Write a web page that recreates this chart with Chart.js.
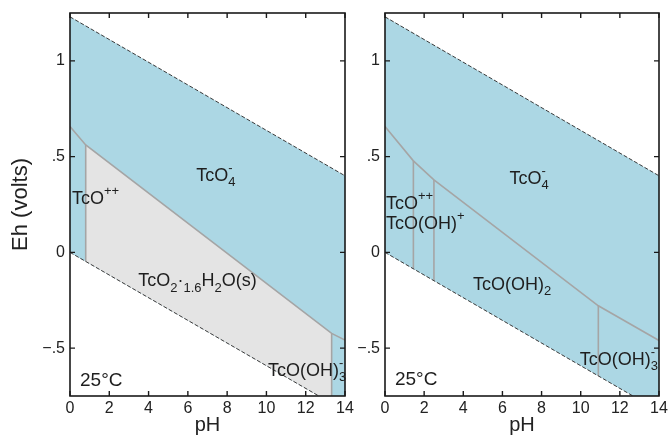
<!DOCTYPE html>
<html><head><meta charset="utf-8">
<script src="https://cdn.jsdelivr.net/npm/chart.js@4"></script>
<style>
html,body{margin:0;padding:0;background:#fff;}
#wrap{position:relative;width:668px;height:437px;overflow:hidden;}
#c1{position:absolute;left:0;top:0;z-index:2;}
#c2{position:absolute;left:350px;top:0;z-index:1;}
</style></head><body>
<div id="wrap"><canvas id="c1" width="364" height="437"></canvas><canvas id="c2" width="318" height="437"></canvas></div>
<script>
// ---- axis ticks ----
const xTickValues = [0, 2, 4, 6, 8, 10, 12, 14];
const yTickValues = [-0.5, 0, 0.5, 1];
const yTickText = ['\u2212.5', '0', '.5', '1'];

// ---- water stability field (pH, Eh) ----
const waterUpperPH = [0, 14];
const waterUpperEh = [1.23, 0.40];
const waterLowerPH = [0, 12.67];
const waterLowerEh = [0, -0.75];
const waterFieldPH = [0, 14, 14, 12.67, 0];
const waterFieldEh = [1.23, 0.40, -0.75, -0.75, 0];

// ---- left panel: TcO4- boundary and solid field ----
const leftTopPH = [0, 0.8, 13.32, 14];
const leftTopEh = [0.657, 0.561, -0.423, -0.458];
const leftSolidPH = [0.8, 0.8, 13.32, 13.32, 12.67];
const leftSolidEh = [-0.047, 0.561, -0.423, -0.75, -0.75];
const leftV1PH = [0.8, 0.8];
const leftV1Eh = [0.561, -0.047];
const leftV2PH = [13.32, 13.32];
const leftV2Eh = [-0.423, -0.75];

// ---- right panel: aqueous boundaries ----
const rightTopPH = [0, 1.45, 2.5, 10.9, 14];
const rightTopEh = [0.657, 0.478, 0.379, -0.279, -0.46];
const rightV1PH = [1.45, 1.45];
const rightV1Eh = [0.478, -0.086];
const rightV2PH = [2.5, 2.5];
const rightV2Eh = [0.379, -0.148];
const rightV3PH = [10.9, 10.9];
const rightV3Eh = [-0.279, -0.645];

// ---- field labels (text, pH, Eh, align) ----
const leftLabelText = ['TcO_{4}^{-}', 'TcO^{++}', 'TcO_{2}\u00b7_{1.6}H_{2}O(s)', 'TcO(OH)_{3}^{-}', '25\u00b0C'];
const leftLabelPH = [7.43, 0.1, 6.49, 10.08, 0.51];
const leftLabelEh = [0.40, 0.281, -0.152, -0.62, -0.672];
const leftLabelAlign = ['center', 'left', 'center', 'left', 'left'];
const rightLabelText = ['TcO_{4}^{-}', 'TcO^{++}', 'TcO(OH)^{+}', 'TcO(OH)_{2}', 'TcO(OH)_{3}^{-}', '25\u00b0C'];
const rightLabelPH = [7.36, 0.05, 0.05, 4.5, 9.95, 0.51];
const rightLabelEh = [0.383, 0.252, 0.148, -0.171, -0.562, -0.667];
const rightLabelAlign = ['center', 'left', 'left', 'left', 'left', 'left'];

const BLUE = 'rgb(172,215,228)';
const GREY_FILL = 'rgb(228,228,228)';
const GREY_LINE = 'rgb(165,165,165)';
const FONT = '"Liberation Sans", Arial, Helvetica, sans-serif';

function pts(xs, ys) { return xs.map((x, i) => ({x: x, y: ys[i]})); }

function parseRich(s) {
  const out = []; let i = 0;
  const isMark = j => (s[j] === '_' || s[j] === '^') && s[j + 1] === '{';
  while (i < s.length) {
    if (isMark(i)) { const j = s.indexOf('}', i); out.push({t: s.slice(i + 2, j), k: s[i]}); i = j + 1; }
    else { let j = i; while (j < s.length && !isMark(j)) j++; out.push({t: s.slice(i, j), k: ''}); i = j; }
  }
  return out;
}
function drawRich(ctx, s, px, py, align, size) {
  const parts = parseRich(s);
  const small = Math.round(size * 0.72);
  const mainFont = size + 'px ' + FONT;
  const smallFont = small + 'px ' + FONT;
  const items = []; let w = 0;
  for (let i = 0; i < parts.length; i++) {
    const p = parts[i];
    if (p.k === '') {
      ctx.font = mainFont; const pw = ctx.measureText(p.t).width;
      items.push({t: p.t, x: w, dy: 0, f: mainFont}); w += pw;
    } else {
      ctx.font = smallFont; let pw = ctx.measureText(p.t).width;
      items.push({t: p.t, x: w, dy: p.k === '_' ? size * 0.36 : -size * 0.42, f: smallFont});
      if (p.k === '_' && parts[i + 1] && parts[i + 1].k === '^') {
        const q = parts[i + 1]; const qw = ctx.measureText(q.t).width;
        items.push({t: q.t, x: w, dy: -size * 0.42, f: smallFont}); pw = Math.max(pw, qw); i++;
      }
      w += pw;
    }
  }
  const x0 = align === 'center' ? px - w / 2 : (align === 'right' ? px - w : px);
  ctx.textBaseline = 'middle'; ctx.textAlign = 'left'; ctx.fillStyle = '#1e1e1e';
  items.forEach(it => { ctx.font = it.f; ctx.fillText(it.t, x0 + it.x, py + it.dy); });
}

function framePlugin(texts, phs, ehs, aligns) {
  return {
    id: 'frame',
    afterDatasetsDraw(chart) {
      const ctx = chart.ctx, a = chart.chartArea, xs = chart.scales.x, ys = chart.scales.y;
      ctx.save();
      texts.forEach((t, i) => {
        const size = t.indexOf('\u00b0') >= 0 ? 19 : 18;
        drawRich(ctx, t, xs.getPixelForValue(phs[i]), ys.getPixelForValue(ehs[i]), aligns[i], size);
      });
      ctx.strokeStyle = '#1a1a1a'; ctx.lineWidth = 1.6;
      ctx.strokeRect(a.left, a.top, a.right - a.left, a.bottom - a.top);
      ctx.lineWidth = 1.4;
      const L = 5;
      ctx.beginPath();
      xTickValues.forEach(v => {
        const px = xs.getPixelForValue(v);
        ctx.moveTo(px, a.bottom); ctx.lineTo(px, a.bottom - L);
        ctx.moveTo(px, a.top); ctx.lineTo(px, a.top + L);
      });
      yTickValues.forEach(v => {
        const py = ys.getPixelForValue(v);
        ctx.moveTo(a.left, py); ctx.lineTo(a.left + L, py);
        ctx.moveTo(a.right, py); ctx.lineTo(a.right - L, py);
      });
      ctx.stroke();
      ctx.restore();
    }
  };
}

function lineDs(xs, ys, color, width, dash, order) {
  return {data: pts(xs, ys), showLine: true, fill: false, borderColor: color, borderWidth: width,
    borderDash: dash || [], pointRadius: 0, tension: 0, order: order};
}
function shapeDs(xs, ys, color, order) {
  return {data: pts(xs, ys), showLine: true, fill: 'shape', backgroundColor: color, borderColor: 'rgba(0,0,0,0)',
    borderWidth: 0, pointRadius: 0, tension: 0, order: order};
}

function makeChart(id, datasets, yAxisWidth, padLeft, padRight, showTitle, plugin) {
  return new Chart(document.getElementById(id), {
    type: 'scatter',
    data: {datasets: datasets},
    options: {
      responsive: false, animation: false, devicePixelRatio: 1,
      layout: {padding: {left: padLeft, right: padRight, top: 13, bottom: 0}},
      plugins: {legend: {display: false}, tooltip: {enabled: false}},
      scales: {
        x: {
          type: 'linear', min: 0, max: 14,
          grid: {display: false, drawTicks: false}, border: {display: false},
          afterBuildTicks: s => { s.ticks = xTickValues.map(v => ({value: v})); },
          afterFit: s => { s.height = 41; s.paddingLeft = 0; s.paddingRight = 0; },
          ticks: {padding: 3, autoSkip: false, maxRotation: 0, color: '#222', font: {family: FONT, size: 16},
            callback: v => String(v)},
          title: {display: true, text: 'pH', color: '#222', font: {family: FONT, size: 20}, padding: {top: 0, bottom: 0}}
        },
        y: {
          type: 'linear', min: -0.75, max: 1.25,
          grid: {display: false, drawTicks: false}, border: {display: false},
          afterBuildTicks: s => { s.ticks = yTickValues.map(v => ({value: v})); },
          afterFit: s => { s.width = yAxisWidth; s.paddingTop = 0; s.paddingBottom = 0; },
          ticks: {padding: 5, autoSkip: false, color: '#222', font: {family: FONT, size: 16},
            callback: v => yTickText[yTickValues.indexOf(v)]},
          title: {display: showTitle, text: 'Eh (volts)', color: '#222', font: {family: FONT, size: 22}, padding: {top: 0, bottom: 0}}
        }
      }
    },
    plugins: [plugin]
  });
}

const leftSets = [
  shapeDs(waterFieldPH, waterFieldEh, BLUE, 10),
  shapeDs(leftSolidPH, leftSolidEh, GREY_FILL, 9),
  lineDs(leftTopPH, leftTopEh, GREY_LINE, 1.6, null, 3),
  lineDs(leftV1PH, leftV1Eh, GREY_LINE, 1.6, null, 3),
  lineDs(leftV2PH, leftV2Eh, GREY_LINE, 1.6, null, 3),
  lineDs(waterUpperPH, waterUpperEh, '#3a3a3a', 1, [4, 2], 2),
  lineDs(waterLowerPH, waterLowerEh, '#3a3a3a', 1, [4, 2], 2)
];
const rightSets = [
  shapeDs(waterFieldPH, waterFieldEh, BLUE, 10),
  lineDs(rightTopPH, rightTopEh, GREY_LINE, 1.6, null, 3),
  lineDs(rightV1PH, rightV1Eh, GREY_LINE, 1.6, null, 3),
  lineDs(rightV2PH, rightV2Eh, GREY_LINE, 1.6, null, 3),
  lineDs(rightV3PH, rightV3Eh, GREY_LINE, 1.6, null, 3),
  lineDs(waterUpperPH, waterUpperEh, '#3a3a3a', 1, [4, 2], 2),
  lineDs(waterLowerPH, waterLowerEh, '#3a3a3a', 1, [4, 2], 2)
];

makeChart('c1', leftSets, 62, 8, 19, true, framePlugin(leftLabelText, leftLabelPH, leftLabelEh, leftLabelAlign));
makeChart('c2', rightSets, 35, 0, 9, false, framePlugin(rightLabelText, rightLabelPH, rightLabelEh, rightLabelAlign));
</script>
</body></html>
